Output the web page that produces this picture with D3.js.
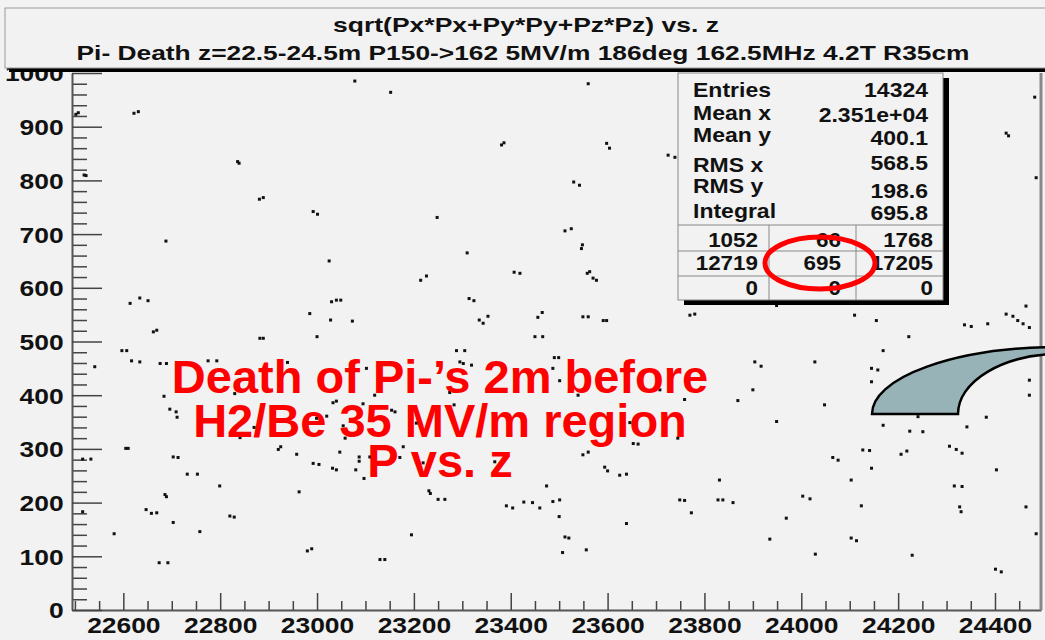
<!DOCTYPE html>
<html>
<head>
<meta charset="UTF-8">
<title>sqrt(Px*Px+Py*Py+Pz*Pz) vs. z</title>
<style>
  body { margin: 0; background: #f2f2f2; }
  svg { display: block; font-family: 'Liberation Sans', Arial, Helvetica, sans-serif; }
  .axis text { font-size: 22px; font-weight: bold; fill: #111; }
  .axis line { stroke: #444; stroke-width: 1.5; }
  .axis path { stroke: #555; stroke-width: 2; fill: none; }
  .stats text { font-size: 19.5px; font-weight: bold; fill: #111; }
  .note { font-size: 47px; font-weight: bold; fill: #ff0000; text-anchor: middle; }
  .title text { font-size: 21px; font-weight: bold; fill: #111; text-anchor: middle; }
</style>
</head>
<body>
<script src="https://d3js.org/d3.v7.min.js"></script>
<script>
// --- data ---
var zVals = [23078,22622,22631,22507,22502,22836,22839,22523,22519,22881,22889,22992,23001,22688,23025,
  22614,22634,22651,23030,23040,23049,22985,23028,23073,22662,22669,22882,22889,23000,
  23152,23560,23381,23386,23598,23604,23725,23739,23530,23542,23248,23512,23525,23548,23546,23310,
  23214,23226,23407,23419,23558,23563,23570,23577,23314,23324,23335,23343,23353,23456,23465,23549,
  23560,23591,23598,23450,23466,
  22597,22607,22617,22634,22541,22676,22689,22775,22793,22939,22830,22684,22696,22709,22711,23040,
  23033,23020,22841,22870,23054,23060,23058,22605,22610,22920,22925,22958,22516,22533,22703,22713,
  22992,23004,23047,23032,23040,23080,23087,23087,23097,22732,22753,22799,22963,22686,22689,22647,
  22658,22669,22516,22820,22829,22703,22581,22758,22980,22989,22674,22692,23080,23102,23119,22999,23095,
  23288,23305,23295,23302,23319,23490,23499,23487,23501,23539,23274,23154,23161,23283,23205,23178,
  23171,23109,23219,23367,23231,23234,23250,23264,23391,23404,23427,23445,23460,23474,23487,23501,
  23500,23512,23520,23507,23556,23195,23130,23140,23549,23560,23594,23600,23625,23639,23653,23663,
  23639,23745,23646,23708,
  23770,23780,24110,24155,24337,24351,24385,24423,24437,24447,24458,24471,24464,24222,24169,23904,
  23917,24028,24145,24158,24145,23900,23869,23759,24048,23949,24471,24471,24169,24224,24251,24241,
  24342,24382,24127,24141,24065,24076,24206,24218,24306,24320,24332,24145,24403,23831,24103,24316,
  24332,23749,23759,23773,23828,23838,23859,24003,24018,24124,24327,24330,24464,23969,23935,24103,
  24114,24485,24029,24229,24401,24413,24482,24423,24428,24485,23949];
var pVals = [985,925,928,926,923,835,832,809,810,765,768,742,737,687,650,
  571,581,576,574,577,577,552,540,538,518,521,506,506,509,
  964,980,866,870,869,860,847,843,797,791,731,706,710,680,673,665,
  614,622,629,627,627,630,618,614,580,576,540,534,547,545,554,546,
  546,539,539,509,509,
  483,483,464,462,453,459,459,464,464,461,403,398,374,369,359,389,
  386,361,321,340,343,335,320,301,301,299,304,290,281,281,285,284,
  273,271,294,264,261,261,285,277,245,253,253,231,220,215,211,187,
  180,181,183,175,173,163,142,146,110,114,88,88,464,450,400,357,384,
  483,483,462,459,456,470,470,450,427,400,405,372,369,382,348,304,
  284,285,274,276,222,217,206,206,194,190,201,200,190,231,202,205,
  174,136,134,107,112,140,94,94,289,294,266,259,251,253,310,309,
  161,320,349,410,
  549,551,549,539,531,528,533,551,547,539,533,526,566,509,483,462,
  454,462,450,447,425,410,390,392,382,351,428,400,344,333,332,360,
  341,359,298,297,284,279,290,296,305,299,292,264,261,242,242,231,
  230,205,204,181,205,205,200,212,207,194,192,183,192,171,132,134,
  129,142,104,102,76,71,955,888,883,805,567];

var zTicks = [22600, 22800, 23000, 23200, 23400, 23600, 23800, 24000, 24200, 24400];
var pTicks = [0, 100, 200, 300, 400, 500, 600, 700, 800, 900, 1000];

var titleLines = ["sqrt(Px*Px+Py*Py+Pz*Pz) vs. z",
  "Pi- Death z=22.5-24.5m P150->162 5MV/m 186deg 162.5MHz 4.2T R35cm"];
var statLabels = ["Entries", "Mean x", "Mean y", "RMS x", "RMS y", "Integral"];
var statValues = ["14324", "2.351e+04", "400.1", "568.5", "198.6", "695.8"];
var cellValues = [[1052, 66, 1768], [12719, 695, 17205], [0, 0, 0]];
var noteLines = ["Death of Pi-\u2019s 2m before", "H2/Be 35 MV/m region", "P vs. z"];

// --- layout ---
var W = 1045, H = 640;
var x = d3.scaleLinear().domain([22494, 24495]).range([72, 1041]);
var y = d3.scaleLinear().domain([0, 1000]).range([610, 73]);
var sx = 1.2; // the picture's text is stretched sideways
var fmt = d3.format("d");

var svg = d3.select("body").append("svg")
    .attr("width", W).attr("height", H);

svg.append("rect").attr("width", W).attr("height", H).attr("fill", "#f2f2f2");

// minor ticks first
var zMinor = d3.range(22500, 24500, 50).filter(function(v) { return v % 200 !== 0; });
var pMinor = d3.range(0, 1000, 20).filter(function(v) { return v % 100 !== 0; });

svg.append("g").attr("class", "axis")
    .attr("transform", "translate(0,610)")
    .call(d3.axisBottom(x).tickValues(zMinor).tickSize(-9).tickSizeOuter(0).tickFormat(""))
    .select(".domain").remove();
svg.append("g").attr("class", "axis")
    .attr("transform", "translate(72,0)")
    .call(d3.axisLeft(y).tickValues(pMinor).tickSize(-15).tickSizeOuter(0).tickFormat(""))
    .select(".domain").remove();

var xAxis = svg.append("g").attr("class", "axis")
    .attr("transform", "translate(0,610)")
    .call(d3.axisBottom(x).tickValues(zTicks).tickFormat(fmt)
        .tickSize(-17).tickSizeOuter(0).tickPadding(7));
xAxis.selectAll("text").attr("transform", "scale(" + sx + ",1)");

var yAxis = svg.append("g").attr("class", "axis")
    .attr("transform", "translate(72,0)")
    .call(d3.axisLeft(y).tickValues(pTicks).tickFormat(fmt)
        .tickSize(-30).tickSizeOuter(0).tickPadding(7));
yAxis.selectAll("text").attr("dy", "0.36em").attr("transform", "scale(" + sx + ",1)");

// right frame
svg.append("line")
    .attr("x1", 1041).attr("x2", 1041).attr("y1", 73).attr("y2", 610)
    .attr("stroke", "#888").attr("stroke-width", 3);

// scatter points
svg.append("g").selectAll("rect")
    .data(d3.range(zVals.length))
    .enter().append("rect")
    .attr("x", function(i) { return x(zVals[i]) - 1.5; })
    .attr("y", function(i) { return y(pVals[i]) - 1.5; })
    .attr("width", 3).attr("height", 3)
    .attr("fill", "#111");

// red annotation text
var noteY = [393, 436.5, 477];
svg.append("g").selectAll("text")
    .data(noteLines)
    .enter().append("text")
    .attr("class", "note")
    .attr("x", 440)
    .attr("y", function(d, i) { return noteY[i]; })
    .text(function(d) { return d; });

// stats box
var stats = svg.append("g").attr("class", "stats");
stats.append("rect").attr("x", 684).attr("y", 78).attr("width", 265).attr("height", 227).attr("fill", "#000");
stats.append("rect").attr("x", 678).attr("y", 73).attr("width", 265).attr("height", 227)
    .attr("fill", "#f2f2f2").attr("stroke", "#888").attr("stroke-width", 1);

var labelY = [96.7, 120, 141.7, 171.7, 193.3, 218.3];
var valueY = [96.7, 121.7, 145, 170, 198.3, 220];
stats.selectAll("text.lab")
    .data(statLabels)
    .enter().append("text").attr("class", "lab")
    .attr("transform", function(d, i) { return "translate(693," + labelY[i] + ") scale(1.18,1)"; })
    .text(function(d) { return d; });
stats.selectAll("text.val")
    .data(statValues)
    .enter().append("text").attr("class", "val")
    .attr("text-anchor", "end")
    .attr("transform", function(d, i) { return "translate(928," + valueY[i] + ") scale(1.18,1)"; })
    .text(function(d) { return d; });

[225, 251, 276].forEach(function(yy) {
    stats.append("line").attr("x1", 678).attr("x2", 943).attr("y1", yy).attr("y2", yy)
        .attr("stroke", "#888");
});
[769, 856].forEach(function(xx) {
    stats.append("line").attr("x1", xx).attr("x2", xx).attr("y1", 225).attr("y2", 300)
        .attr("stroke", "#888");
});
var cellX = [758, 841, 933], cellY = [246.7, 270, 295];
cellValues.forEach(function(row, r) {
    row.forEach(function(v, c) {
        stats.append("text")
            .attr("text-anchor", "end")
            .attr("transform", "translate(" + cellX[c] + "," + cellY[r] + ") scale(1.15,1)")
            .text(v);
    });
});

// red ellipse round the central cell
svg.append("ellipse")
    .attr("cx", 820).attr("cy", 263).attr("rx", 55).attr("ry", 26)
    .attr("fill", "none").attr("stroke", "#ff0000").attr("stroke-width", 5);

// title box
var title = svg.append("g").attr("class", "title");
title.append("rect").attr("x", 9).attr("y", 12).attr("width", 1045).attr("height", 60).attr("fill", "#000");
title.append("rect").attr("x", 5).attr("y", 8).attr("width", 1045).attr("height", 60)
    .attr("fill", "#f2f2f2").attr("stroke", "#999").attr("stroke-width", 1);
var titleX = [526, 523], titleY = [32, 60], titleLen = [386, 893];
title.selectAll("text")
    .data(titleLines)
    .enter().append("text")
    .attr("x", function(d, i) { return titleX[i]; })
    .attr("y", function(d, i) { return titleY[i]; })
    .attr("textLength", function(d, i) { return titleLen[i]; })
    .attr("lengthAdjust", "spacingAndGlyphs")
    .text(function(d) { return d; });

// curved arrow shape at the right
svg.append("path")
    .attr("d", "M872,414 A188,67 0 0 1 1060,347 L1060,354 A102,60 0 0 0 958,414 Z")
    .attr("fill", "#97b3b7").attr("stroke", "#000").attr("stroke-width", 2.5)
    .attr("stroke-linejoin", "miter");
</script>
</body>
</html>
